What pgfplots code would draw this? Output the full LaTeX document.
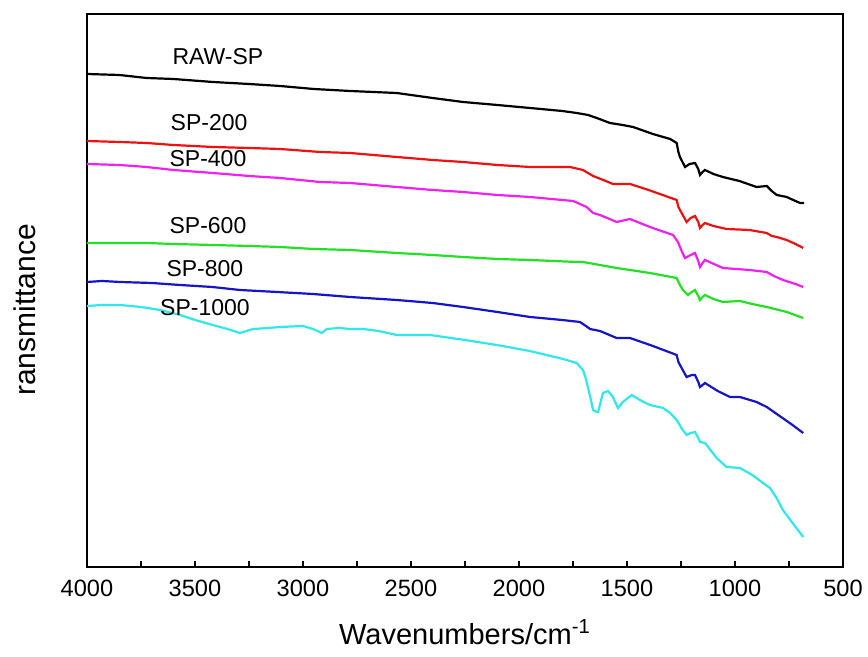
\documentclass[border=0pt]{standalone}
\usepackage{fontspec}
\setmainfont{Liberation Sans}
\usepackage{pgfplots}
\pgfplotsset{compat=1.18}
\definecolor{spBlack}{HTML}{000000}
\definecolor{spRed}{HTML}{F01010}
\definecolor{spMagenta}{HTML}{F020F0}
\definecolor{spGreen}{HTML}{22E022}
\definecolor{spBlue}{HTML}{1414C8}
\definecolor{spCyan}{HTML}{30E8EC}

\begin{document}
\begin{tikzpicture}
\begin{axis}[
  scale only axis, width=378pt, height=276.5pt,
  x dir=reverse, xmin=500, xmax=4000, ymin=0, ymax=553,
  xtick={500,1000,...,4000}, minor x tick num=1,
  ytick=\empty, xtick pos=bottom, tick align=inside,
  major tick length=3pt, minor tick length=3pt,
  axis line style={line width=1.2pt}, tick style={line width=0.8pt, black},
  /pgf/number format/1000 sep={}, /pgf/number format/assume math mode=true,
  tick label style={font=\fontsize{11.8}{14}\selectfont},
  xticklabel style={yshift=-3pt},
  xlabel={Wavenumbers/cm\textsuperscript{-1}},
  xlabel style={font=\fontsize{14.5}{17}\selectfont, at={(axis description cs:0.5,-0.1175)}, anchor=center},
  ylabel={ransmittance},
  ylabel style={font=\fontsize{15}{18}\selectfont, at={(axis description cs:-0.082,0.465)}, anchor=center},
  every axis plot/.append style={line width=1.1pt},
  clip=false,
]
% RAW-SP
\addplot[spBlack] coordinates {(4000,493) (3850,492) (3724,489) (3600,488) (3417,485) (3250,483) (3106,481) (2950,478) (2782,476) (2566,474) (2400,469) (2259,465) (2100,462) (1949,459) (1800,456) (1733,454) (1680,452) (1640,449) (1579,444) (1520,442) (1472,440) (1380,433) (1300,428) (1270,424) (1262,415) (1255,410) (1231,400) (1210,403) (1185,404) (1170,398) (1162,392) (1150,395) (1139,397) (1100,393) (1056,390) (980,386) (900,380) (853,381) (830,376) (807,372) (761,370) (720,366) (699,364) (680,364)};
% SP-200
\addplot[spRed] coordinates {(4000,426) (3850,425) (3724,424) (3600,422) (3417,420) (3250,419) (3106,418) (2921,415) (2782,414) (2566,410) (2400,407) (2259,405) (2100,402) (1949,400) (1764,400) (1704,397) (1657,391) (1610,387) (1565,383) (1486,383) (1400,377) (1270,367) (1262,360) (1247,354) (1224,345) (1205,349) (1185,351) (1170,345) (1162,339) (1150,342) (1139,344) (1100,341) (1039,338) (933,337) (853,334) (830,331) (807,330) (761,327) (720,323) (684,319)};
% SP-400
\addplot[spMagenta] coordinates {(4000,403) (3850,402) (3724,400) (3600,397) (3417,394) (3250,391) (3106,389) (2921,385) (2782,384) (2566,380) (2400,377) (2259,375) (2100,372) (1949,370) (1750,366) (1687,360) (1657,354) (1625,352) (1548,345) (1486,348) (1394,340) (1287,332) (1264,325) (1245,315) (1231,309) (1205,312) (1185,314) (1170,306) (1162,300) (1150,304) (1139,307) (1056,299) (933,297) (853,295) (820,291) (778,287) (720,283) (684,280)};
% SP-600
\addplot[spGreen] coordinates {(4000,324) (3850,324) (3724,324) (3600,323) (3417,322) (3250,321) (3106,320) (2950,318) (2782,317) (2566,314) (2400,312) (2259,310) (2100,308) (1949,307) (1733,305) (1704,305) (1625,302) (1548,299) (1394,294) (1270,289) (1255,282) (1241,277) (1218,272) (1200,275) (1185,277) (1170,271) (1162,267) (1150,270) (1139,272) (1100,268) (1056,265) (977,266) (920,263) (853,260) (760,255) (684,249)};
% SP-800
\addplot[spBlue] coordinates {(4000,285) (3930,286) (3847,285) (3700,284) (3569,282) (3420,280) (3292,277) (3120,275) (2954,273) (2782,270) (2566,267) (2400,264) (2259,260) (2100,255) (1949,250) (1800,247) (1718,245) (1690,241) (1671,238) (1625,236) (1548,229) (1486,229) (1380,221) (1270,212) (1262,205) (1247,199) (1224,190) (1200,192) (1185,192) (1170,185) (1162,180) (1150,182) (1139,184) (1080,176) (1023,170) (977,170) (900,165) (853,160) (800,152) (740,143) (684,134)};
% SP-1000
\addplot[spCyan] coordinates {(4000,261) (3930,262) (3847,262) (3750,260) (3662,257) (3569,252) (3500,247) (3417,242) (3350,238) (3292,234) (3231,238) (3160,239) (3106,240) (3000,241) (2954,238) (2913,234) (2890,238) (2830,239) (2782,238) (2722,238) (2650,236) (2566,232) (2412,232) (2250,227) (2103,222) (1950,216) (1796,208) (1733,204) (1704,197) (1690,188) (1681,180) (1668,168) (1657,157) (1640,155) (1634,155) (1622,165) (1611,174) (1588,176) (1565,170) (1542,159) (1519,165) (1478,172) (1440,167) (1394,162) (1333,159) (1300,154) (1270,147) (1245,138) (1224,132) (1205,134) (1185,135) (1170,129) (1162,125) (1139,124) (1110,116) (1085,109) (1039,100) (977,99) (920,92) (870,84) (838,79) (810,70) (778,57) (730,43) (684,30)};
\node[font=\fontsize{11.5}{13}\selectfont] at (axis cs:3394,510) {RAW-SP};
\node[font=\fontsize{11.5}{13}\selectfont] at (axis cs:3435,444) {SP-200};
\node[font=\fontsize{11.5}{13}\selectfont] at (axis cs:3440,408) {SP-400};
\node[font=\fontsize{11.5}{13}\selectfont] at (axis cs:3440,341) {SP-600};
\node[font=\fontsize{11.5}{13}\selectfont] at (axis cs:3454,298) {SP-800};
\node[font=\fontsize{11.5}{13}\selectfont] at (axis cs:3454,259) {SP-1000};
\end{axis}
\pgfresetboundingbox
\path (-43.5pt,-45pt) rectangle (390.5pt,283.5pt);
\end{tikzpicture}
\end{document}
